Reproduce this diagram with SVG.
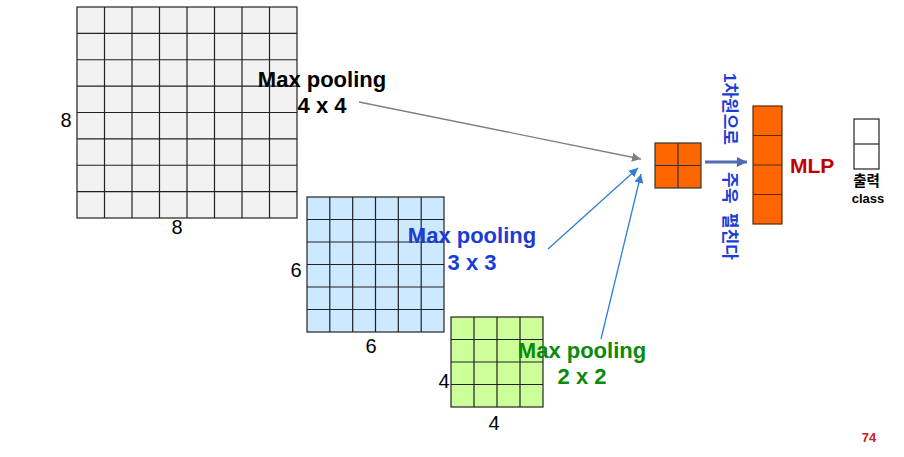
<svg xmlns="http://www.w3.org/2000/svg" width="904" height="457" viewBox="0 0 904 457">
<style>
.grid{stroke:#222;stroke-width:1.2;}
.num{font-family:"Liberation Sans",Arial,sans-serif;font-size:20px;fill:#000;text-anchor:middle;}
.lbl{font-family:"Liberation Sans",Arial,sans-serif;font-size:22px;font-weight:bold;text-anchor:middle;}
.kr{font-family:"Liberation Sans","Noto Sans CJK KR",sans-serif;font-weight:bold;}
</style>
<defs>
<marker id="ahGray" viewBox="0 0 10 10" refX="10" refY="5" markerWidth="9" markerHeight="9" markerUnits="userSpaceOnUse" orient="auto">
<path d="M0,0 L10,5 L0,10 z" fill="#808080"/>
</marker>
<marker id="ahBlue" viewBox="0 0 10 10" refX="10" refY="5" markerWidth="9" markerHeight="9" markerUnits="userSpaceOnUse" orient="auto">
<path d="M0,0 L10,5 L0,10 z" fill="#2f7fd6"/>
</marker>
<marker id="ahFlat" viewBox="0 0 10 10" refX="10" refY="5" markerWidth="10" markerHeight="10" markerUnits="userSpaceOnUse" orient="auto">
<path d="M0,0 L10,5 L0,10 z" fill="#4f6db0"/>
</marker>
</defs>
<rect width="904" height="457" fill="#fff"/>

<g id="grid8">
<rect x="77" y="7" width="220" height="211" fill="#f2f2f2" class="grid"/>
<path class="grid" fill="none" d="M104.5,7V218M132,7V218M159.5,7V218M187,7V218M214.5,7V218M242,7V218M269.5,7V218M77,33.4H297M77,59.75H297M77,86.1H297M77,112.5H297M77,138.9H297M77,165.25H297M77,191.6H297"/>
<text class="num" x="66" y="127">8</text>
<text class="num" x="177" y="234">8</text>
</g>

<g id="grid6">
<rect x="307" y="197" width="137" height="135" fill="#cce9ff" class="grid"/>
<path class="grid" fill="none" d="M329.8,197V332M352.7,197V332M375.5,197V332M398.3,197V332M421.2,197V332M307,219.5H444M307,242H444M307,264.5H444M307,287H444M307,309.5H444"/>
<text class="num" x="296" y="277">6</text>
<text class="num" x="371" y="353">6</text>
</g>

<g id="grid4">
<rect x="451" y="317" width="92" height="90" fill="#ccff99" class="grid"/>
<path class="grid" fill="none" d="M474,317V407M497,317V407M520,317V407M451,339.5H543M451,362H543M451,384.5H543"/>
<text class="num" x="444" y="388">4</text>
<text class="num" x="494" y="430">4</text>
</g>

<g id="pooled">
<rect x="655" y="143" width="46" height="45" fill="#ff6600" stroke="#333" stroke-width="1.2"/>
<path d="M678,143V188M655,165.5H701" stroke="#333" stroke-width="1.2" fill="none"/>
</g>

<g id="flatten-label">
<text class="kr" font-size="17" fill="#1a3cd6" transform="translate(724,73) rotate(90)"><tspan x="0">1차원으로</tspan><tspan x="99">주욱</tspan><tspan x="140">펼친다</tspan></text>
</g>

<g id="mlp-column">
<rect x="753" y="106" width="29" height="118" fill="#ff6600" stroke="#5a2a00" stroke-width="1.2"/>
<path d="M753,135.5H782M753,165H782M753,194.5H782" stroke="#5a2a00" stroke-width="1.2" fill="none"/>
</g>

<g id="mlp-label">
<text x="790" y="173" font-family="Liberation Sans,Arial,sans-serif" font-size="21" font-weight="bold" fill="#c00000">MLP</text>
</g>

<g id="output">
<rect x="854" y="119" width="25" height="50" fill="#fff" stroke="#222" stroke-width="1.2"/>
<path d="M854,144H879" stroke="#222" stroke-width="1.2"/>
<text class="kr" x="866.5" y="186" font-size="14.5" text-anchor="middle" fill="#000">출력</text>
<text x="868" y="203" font-family="Liberation Sans,Arial,sans-serif" font-size="13" font-weight="bold" text-anchor="middle" fill="#000">class</text>
</g>

<g id="label-4x4">
<text class="lbl" fill="#000" x="322" y="87">Max pooling</text>
<text class="lbl" fill="#000" x="322" y="113">4 x 4</text>
</g>
<g id="label-3x3">
<text class="lbl" fill="#1a3cd6" x="472" y="243">Max pooling</text>
<text class="lbl" fill="#1a3cd6" x="472" y="270">3 x 3</text>
</g>
<g id="label-2x2">
<text class="lbl" fill="#0a8a0a" x="582" y="358">Max pooling</text>
<text class="lbl" fill="#0a8a0a" x="582" y="384">2 x 2</text>
</g>

<g id="connectors">
<line x1="359" y1="102" x2="641" y2="159" stroke="#808080" stroke-width="1.3" marker-end="url(#ahGray)"/>
<line x1="548" y1="249" x2="638" y2="168" stroke="#2f7fd6" stroke-width="1.3" marker-end="url(#ahBlue)"/>
<line x1="601" y1="339" x2="641" y2="174" stroke="#2f7fd6" stroke-width="1.3" marker-end="url(#ahBlue)"/>
<line x1="705" y1="162" x2="747" y2="162" stroke="#4f6db0" stroke-width="3" marker-end="url(#ahFlat)"/>
</g>

<text x="869" y="442" font-family="Liberation Sans,Arial,sans-serif" font-size="13" font-weight="bold" text-anchor="middle" fill="#cc2222">74</text>
</svg>
